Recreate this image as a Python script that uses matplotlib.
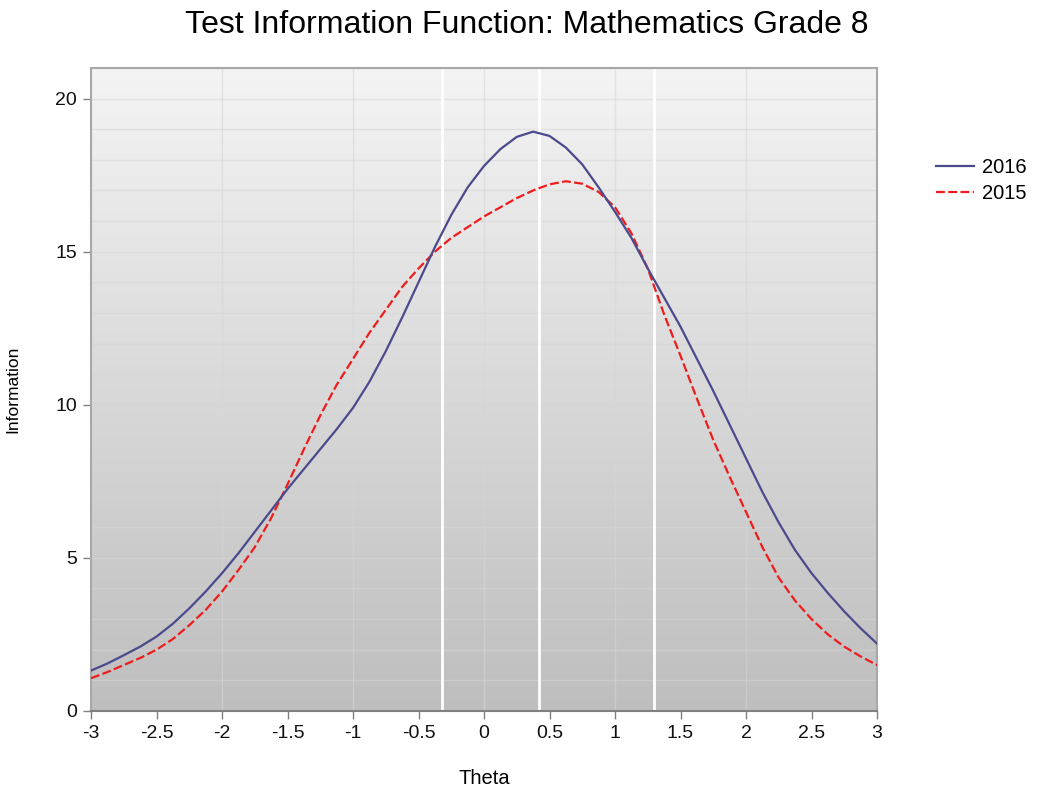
import matplotlib
matplotlib.use("Agg")
import matplotlib.pyplot as plt
import numpy as np

plt.rcParams['font.family'] = ['Liberation Sans', 'DejaVu Sans']

# values
theta = [-3.0, -2.875, -2.75, -2.625, -2.5, -2.375, -2.25, -2.125, -2.0, -1.875,
         -1.75, -1.625, -1.5, -1.375, -1.25, -1.125, -1.0, -0.875, -0.75, -0.625,
         -0.5, -0.375, -0.25, -0.125, 0.0, 0.125, 0.25, 0.375, 0.5, 0.625,
         0.75, 0.875, 1.0, 1.125, 1.25, 1.375, 1.5, 1.625, 1.75, 1.875,
         2.0, 2.125, 2.25, 2.375, 2.5, 2.625, 2.75, 2.875, 3.0]
info_2016 = [1.32, 1.55, 1.82, 2.1, 2.43, 2.85, 3.35, 3.9, 4.5, 5.15,
             5.85, 6.55, 7.25, 7.9, 8.55, 9.2, 9.9, 10.75, 11.75, 12.85,
             14.0, 15.15, 16.2, 17.1, 17.8, 18.35, 18.75, 18.92, 18.78, 18.4,
             17.85, 17.1, 16.3, 15.45, 14.45, 13.5, 12.55, 11.5, 10.45, 9.35,
             8.25, 7.15, 6.15, 5.25, 4.5, 3.85, 3.25, 2.7, 2.2]
info_2015 = [1.07, 1.27, 1.5, 1.73, 2.0, 2.35, 2.8, 3.3, 3.9, 4.6,
             5.35, 6.3, 7.4, 8.55, 9.65, 10.65, 11.5, 12.35, 13.1, 13.85,
             14.45, 15.0, 15.45, 15.8, 16.15, 16.45, 16.75, 17.0, 17.2, 17.3,
             17.22, 16.95, 16.45, 15.6, 14.45, 12.95, 11.6, 10.2, 8.85, 7.65,
             6.5, 5.35, 4.35, 3.6, 3.0, 2.5, 2.1, 1.78, 1.5]

cut_scores = [-0.32, 0.42, 1.30]

x_ticks = [-3, -2.5, -2, -1.5, -1, -0.5, 0, 0.5, 1, 1.5, 2, 2.5, 3]
x_tick_labels = ['-3', '-2.5', '-2', '-1.5', '-1', '-0.5', '0', '0.5', '1', '1.5', '2', '2.5', '3']
y_ticks = [0, 5, 10, 15, 20]

fig = plt.figure(figsize=(10.39, 7.95), dpi=100)
ax = fig.add_axes([0.0876, 0.1057, 0.7565, 0.8088])

# vertical gradient background, light at the top
grad = np.linspace(0, 1, 256).reshape(-1, 1)
bg = matplotlib.colors.LinearSegmentedColormap.from_list('bg', ['#f4f4f4', '#bebebe'])
ax.imshow(grad, cmap=bg, aspect='auto', extent=[0, 1, 0, 1], origin='upper',
          transform=ax.transAxes, zorder=0)

# faint grid every unit
for gx in range(-3, 4):
    ax.axvline(gx, color='#d6d6d6', alpha=0.55, lw=1, zorder=1)
for gy in range(0, 22):
    ax.axhline(gy, color='#d6d6d6', alpha=0.55, lw=1, zorder=1)

for c in cut_scores:
    ax.axvline(c, color='white', lw=2, zorder=2)

ax.plot(theta, info_2016, color='#4a4a8c', lw=1.6, label='2016', zorder=4)
ax.plot(theta, info_2015, color='#ee1c1c', lw=1.6, ls=(0, (4, 1.5)), label='2015', zorder=3)

ax.set_xlim(-3, 3)
ax.set_ylim(0, 21)
ax.set_xticks(x_ticks)
ax.set_xticklabels(x_tick_labels)
ax.set_yticks(y_ticks)
ax.tick_params(axis='both', direction='out', length=6, width=1, color='#808080',
               labelsize=14, labelcolor='#111111', pad=4)

for side in ['top', 'right', 'left']:
    ax.spines[side].set_color('#a8a8a8')
    ax.spines[side].set_linewidth(1.5)
ax.spines['bottom'].set_color('#808080')
ax.spines['bottom'].set_linewidth(1.5)

ax.set_xlabel('Theta', fontsize=14.5)
ax.xaxis.set_label_coords(0.5, -0.09)
ax.set_ylabel('Information', fontsize=12.5)
ax.yaxis.set_label_coords(-0.09, 0.5)
fig.text(0.507, 0.969, 'Test Information Function: Mathematics Grade 8', fontsize=23,
         ha='center', va='center')

ax.legend(loc='upper left', bbox_to_anchor=(1.052, 0.888), frameon=False, fontsize=14.5,
          handlelength=1.9, handletextpad=0.4, labelspacing=0.35)

fig.savefig('out.png', dpi=100)
